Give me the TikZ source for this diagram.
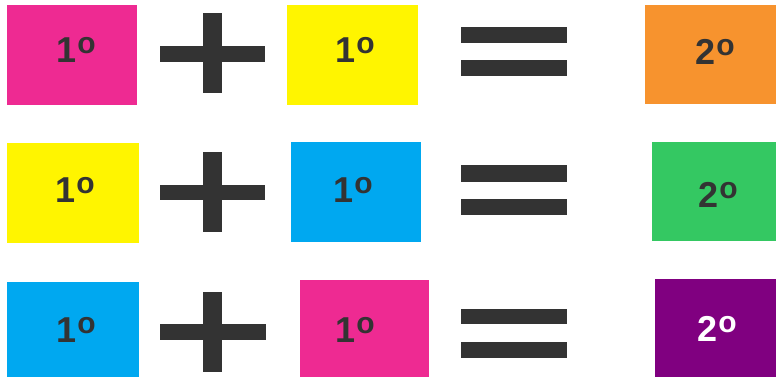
\documentclass[tikz,border=0pt]{standalone}
\usepackage{fontspec}
\setmainfont{Liberation Sans}
\definecolor{cmag}{HTML}{EE2A92}
\definecolor{cyel}{HTML}{FFF500}
\definecolor{ccya}{HTML}{00A8F0}
\definecolor{cora}{HTML}{F7932E}
\definecolor{cgre}{HTML}{34C862}
\definecolor{cpur}{HTML}{800080}
\definecolor{cdark}{HTML}{333333}
\newcommand\mydgr{\kern1pt\raisebox{9.6pt}{\fontsize{30}{30}\selectfont o}}
\tikzset{
  sq/.style={draw=none, inner sep=0pt, anchor=north west},
  lbl/.style={inner sep=0pt, font=\fontsize{36}{36}\selectfont\bfseries, text=cdark},
  bar/.style={fill=cdark, draw=none}
}
\begin{document}
\begin{tikzpicture}[x=1pt,y=-1pt]
\useasboundingbox (0,0) rectangle (776,377);
% row 1
\node[sq, fill=cmag, minimum width=130pt, minimum height=100pt] (a1) at (7,5) {};
\node[lbl] (a1t) at (76,50) {1\mydgr};
\fill[bar] (160,46) rectangle (265,62);
\fill[bar] (203,13) rectangle (222,93);
\node[sq, fill=cyel, minimum width=131pt, minimum height=100pt] (b1) at (287,5) {};
\node[lbl] (b1t) at (355,50) {1\mydgr};
\fill[bar] (461,27) rectangle (567,43);
\fill[bar] (461,60) rectangle (567,76);
\node[sq, fill=cora, minimum width=131pt, minimum height=99pt] (c1) at (645,5) {};
\node[lbl] (c1t) at (715,52) {2\mydgr};
% row 2
\node[sq, fill=cyel, minimum width=132pt, minimum height=100pt] (a2) at (7,143) {};
\node[lbl] (a2t) at (75,190) {1\mydgr};
\fill[bar] (160,185) rectangle (265,200);
\fill[bar] (203,152) rectangle (222,232);
\node[sq, fill=ccya, minimum width=130pt, minimum height=100pt] (b2) at (291,142) {};
\node[lbl] (b2t) at (353,190) {1\mydgr};
\fill[bar] (461,165) rectangle (567,182);
\fill[bar] (461,199) rectangle (567,215);
\node[sq, fill=cgre, minimum width=124pt, minimum height=99pt] (c2) at (652,142) {};
\node[lbl] (c2t) at (718,195) {2\mydgr};
% row 3
\node[sq, fill=ccya, minimum width=132pt, minimum height=95pt] (a3) at (7,282) {};
\node[lbl] (a3t) at (76,330) {1\mydgr};
\fill[bar] (160,324) rectangle (266,340);
\fill[bar] (203,292) rectangle (222,372);
\node[sq, fill=cmag, minimum width=129pt, minimum height=97pt] (b3) at (300,280) {};
\node[lbl] (b3t) at (355,330) {1\mydgr};
\fill[bar] (461,309) rectangle (567,324);
\fill[bar] (461,342) rectangle (567,358);
\node[sq, fill=cpur, minimum width=121pt, minimum height=98pt] (c3) at (655,279) {};
\node[lbl, text=white] (c3t) at (717,329) {2\mydgr};
\end{tikzpicture}
\end{document}
